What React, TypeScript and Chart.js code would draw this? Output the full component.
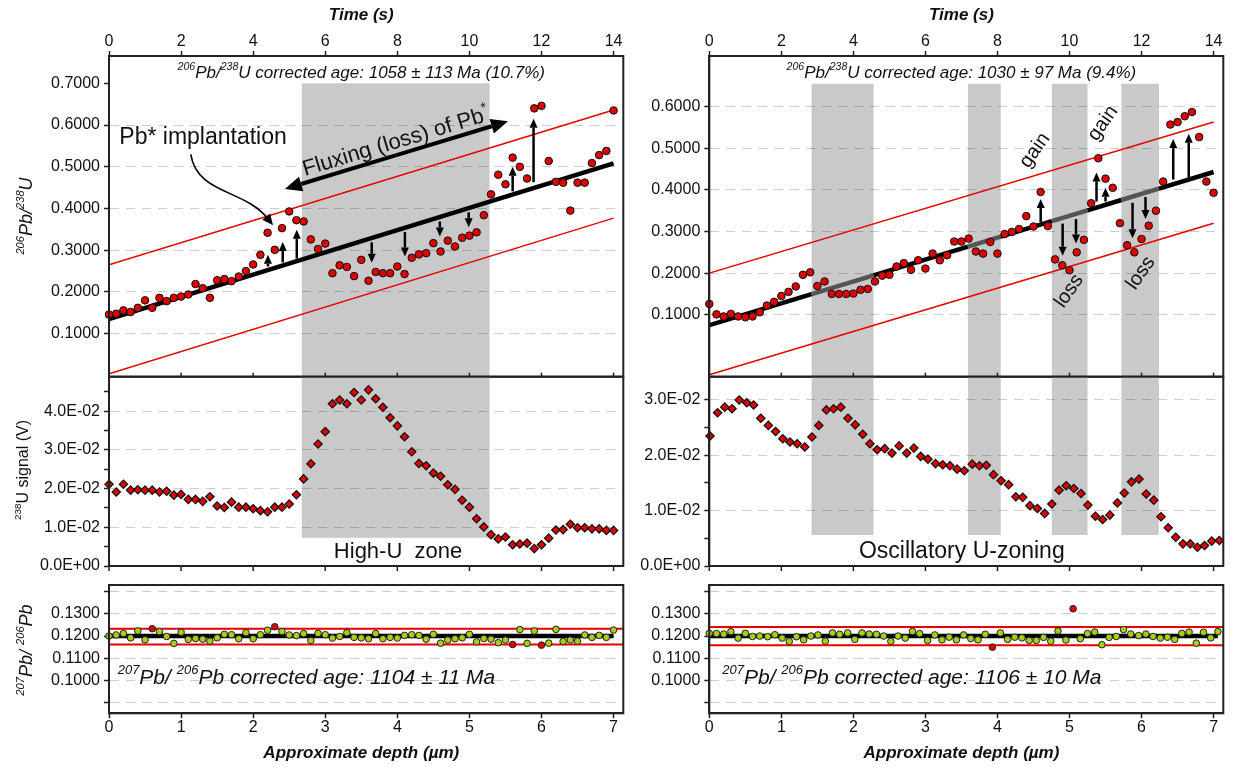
import React, { useEffect, useRef } from 'react';
import { Chart, registerables } from 'chart.js';

Chart.register(...registerables);

/* ============================ DATA ============================ */
// sampling times (s) of the ratio / U-signal cycles
const TIME_S = [0, 0.2, 0.4, 0.6, 0.8, 1, 1.2, 1.4, 1.6, 1.8, 2, 2.2, 2.4, 2.6, 2.8, 3, 3.2, 3.4, 3.6, 3.8, 4, 4.2, 4.4, 4.6, 4.8, 5, 5.2, 5.4, 5.6, 5.8, 6, 6.2, 6.4, 6.6, 6.8, 7, 7.2, 7.4, 7.6, 7.8, 8, 8.2, 8.4, 8.6, 8.8, 9, 9.2, 9.4, 9.6, 9.8, 10, 10.2, 10.4, 10.6, 10.8, 11, 11.2, 11.4, 11.6, 11.8, 12, 12.2, 12.4, 12.6, 12.8, 13, 13.2, 13.4, 13.6, 13.8, 14];

// left grain: 206Pb/238U
const RATIO_LEFT = [
  0.146, 0.148, 0.156, 0.152, 0.162, 0.180, 0.162, 0.186, 0.178, 0.186,
  0.189, 0.194, 0.219, 0.209, 0.186, 0.228, 0.231, 0.226, 0.237, 0.250,
  0.266, 0.289, 0.342, 0.301, 0.353, 0.393, 0.372, 0.369, 0.326, 0.303,
  0.316, 0.245, 0.264, 0.260, 0.238, 0.277, 0.227, 0.248, 0.245, 0.245,
  0.261, 0.243, 0.282, 0.290, 0.293, 0.317, 0.297, 0.323, 0.309, 0.330,
  0.335, 0.343, 0.384, 0.434, 0.481, 0.458, 0.522, 0.500, 0.472, 0.640,
  0.646, 0.514, 0.464, 0.462, 0.395, 0.462, 0.462, 0.509, 0.528, 0.538,
  0.635];

// left grain: 238U signal (V)
const U_LEFT = [
  0.0211, 0.0191, 0.0211, 0.0196, 0.0197, 0.0196, 0.0196, 0.0191, 0.0193, 0.0183,
  0.0185, 0.0172, 0.0172, 0.0167, 0.0179, 0.0155, 0.0151, 0.0165, 0.0152, 0.0152,
  0.0148, 0.0143, 0.0140, 0.0152, 0.0152, 0.0160, 0.0184, 0.0225, 0.0264, 0.0315,
  0.0347, 0.0419, 0.0429, 0.0419, 0.0448, 0.0429, 0.0455, 0.0432, 0.0410, 0.0383,
  0.0362, 0.0334, 0.0295, 0.0265, 0.0259, 0.0240, 0.0232, 0.0210, 0.0198, 0.0170,
  0.0152, 0.0122, 0.0101, 0.0081, 0.0070, 0.0075, 0.0055, 0.0057, 0.0059, 0.0045,
  0.0055, 0.0072, 0.0093, 0.0094, 0.0108, 0.0099, 0.0099, 0.0096, 0.0096, 0.0092,
  0.0092];

// right grain: 206Pb/238U
const RATIO_RIGHT = [
  0.126, 0.101, 0.096, 0.102, 0.096, 0.094, 0.096, 0.106, 0.122, 0.131,
  0.145, 0.155, 0.168, 0.196, 0.202, 0.169, 0.180, 0.150, 0.150, 0.150,
  0.151, 0.160, 0.162, 0.180, 0.194, 0.196, 0.216, 0.224, 0.208, 0.231,
  0.211, 0.247, 0.231, 0.243, 0.276, 0.276, 0.283, 0.252, 0.247, 0.275,
  0.247, 0.294, 0.299, 0.306, 0.337, 0.312, 0.395, 0.313, 0.233, 0.219,
  0.207, 0.250, 0.280, 0.368, 0.476, 0.427, 0.405, 0.320, 0.267, 0.250,
  0.282, 0.314, 0.350, 0.420, 0.557, 0.563, 0.577, 0.587, 0.527, 0.420,
  0.393];

// right grain: 238U signal times (s) and values (V)
const U_TIME_RIGHT = [
  0.02, 0.23, 0.43, 0.63, 0.83, 1.04, 1.23, 1.43, 1.64, 1.84,
  2.04, 2.24, 2.44, 2.65, 2.85, 3.04, 3.25, 3.45, 3.65, 3.85,
  4.05, 4.26, 4.46, 4.66, 4.87, 5.07, 5.27, 5.48, 5.68, 5.87,
  6.07, 6.28, 6.48, 6.68, 6.88, 7.08, 7.30, 7.50, 7.69, 7.89,
  8.10, 8.31, 8.51, 8.70, 8.90, 9.11, 9.31, 9.51, 9.71, 9.91,
  10.12, 10.32, 10.51, 10.72, 10.92, 11.12, 11.33, 11.52, 11.72, 11.93,
  12.13, 12.34, 12.54, 12.74, 12.95, 13.15, 13.35, 13.55, 13.75, 13.95,
  14.16];
const U_RIGHT = [
  0.0235, 0.0277, 0.0287, 0.0284, 0.0300, 0.0295, 0.0291, 0.0267, 0.0254, 0.0243,
  0.0230, 0.0224, 0.0221, 0.0215, 0.0233, 0.0254, 0.0282, 0.0284, 0.0287, 0.0267,
  0.0255, 0.0238, 0.0221, 0.0210, 0.0212, 0.0204, 0.0217, 0.0204, 0.0213, 0.0198,
  0.0193, 0.0185, 0.0183, 0.0181, 0.0175, 0.0172, 0.0184, 0.0181, 0.0182, 0.0165,
  0.0154, 0.0147, 0.0125, 0.0124, 0.0109, 0.0104, 0.0095, 0.0112, 0.0137, 0.0145,
  0.0140, 0.0131, 0.0110, 0.0090, 0.0084, 0.0092, 0.0114, 0.0132, 0.0152, 0.0157,
  0.0130, 0.0119, 0.0089, 0.0069, 0.0052, 0.0040, 0.0040, 0.0034, 0.0037, 0.0045,
  0.0046];

// bottom panels: 207Pb/206Pb vs approximate depth (um)
const DEPTH_LEFT = [0, 0.1, 0.2, 0.3, 0.4, 0.5, 0.6, 0.7, 0.8, 0.9, 1, 1.1, 1.2, 1.3, 1.4, 1.5, 1.6, 1.7, 1.8, 1.9, 2, 2.1, 2.2, 2.3, 2.4, 2.5, 2.6, 2.7, 2.8, 2.9, 3, 3.1, 3.2, 3.3, 3.4, 3.5, 3.6, 3.7, 3.8, 3.9, 4, 4.1, 4.2, 4.3, 4.4, 4.5, 4.6, 4.7, 4.8, 4.9, 5, 5.1, 5.2, 5.3, 5.4, 5.5, 5.6, 5.7, 5.8, 5.9, 6, 6.1, 6.2, 6.3, 6.4, 6.5, 6.6, 6.7, 6.8, 6.9, 7];
const PBPB_LEFT = [
  0.1200, 0.1205, 0.1212, 0.1192, 0.1223, 0.1183, 0.1233, 0.1220, 0.1198, 0.1167,
  0.1217, 0.1185, 0.1189, 0.1186, 0.1177, 0.1192, 0.1208, 0.1206, 0.1188, 0.1215,
  0.1188, 0.1206, 0.1226, 0.1242, 0.1220, 0.1205, 0.1202, 0.1211, 0.1180, 0.1212,
  0.1206, 0.1191, 0.1198, 0.1215, 0.1194, 0.1192, 0.1188, 0.1211, 0.1188, 0.1194,
  0.1191, 0.1203, 0.1206, 0.1203, 0.1186, 0.1208, 0.1168, 0.1182, 0.1188, 0.1192,
  0.1208, 0.1174, 0.1189, 0.1186, 0.1170, 0.1182, 0.1162, 0.1229, 0.1167, 0.1223,
  0.1159, 0.1168, 0.1230, 0.1176, 0.1182, 0.1177, 0.1205, 0.1194, 0.1203, 0.1194,
  0.1227];
const PBPB_LEFT_REJECTED = [6, 23, 56, 60];

const DEPTH_RIGHT = [
  0.00, 0.10, 0.20, 0.30, 0.40, 0.50, 0.60, 0.70, 0.81, 0.91,
  1.01, 1.11, 1.21, 1.31, 1.41, 1.51, 1.61, 1.71, 1.81, 1.92,
  2.02, 2.12, 2.22, 2.32, 2.42, 2.52, 2.62, 2.72, 2.82, 2.92,
  3.03, 3.13, 3.23, 3.33, 3.43, 3.53, 3.63, 3.73, 3.83, 3.93,
  4.04, 4.14, 4.24, 4.34, 4.44, 4.54, 4.64, 4.74, 4.84, 4.95,
  5.05, 5.15, 5.25, 5.35, 5.45, 5.55, 5.65, 5.75, 5.85, 5.96,
  6.06, 6.16, 6.26, 6.36, 6.46, 6.56, 6.66, 6.76, 6.86, 6.96,
  7.06];
const PBPB_RIGHT = [
  0.1212, 0.1211, 0.1209, 0.1220, 0.1191, 0.1212, 0.1198, 0.1200, 0.1197, 0.1206,
  0.1191, 0.1176, 0.1197, 0.1183, 0.1200, 0.1205, 0.1177, 0.1214, 0.1208, 0.1214,
  0.1185, 0.1214, 0.1209, 0.1208, 0.1200, 0.1176, 0.1200, 0.1191, 0.1221, 0.1211,
  0.1180, 0.1205, 0.1183, 0.1195, 0.1183, 0.1205, 0.1189, 0.1183, 0.1208, 0.1150,
  0.1214, 0.1185, 0.1195, 0.1192, 0.1180, 0.1180, 0.1194, 0.1177, 0.1223, 0.1182,
  0.1323, 0.1188, 0.1211, 0.1218, 0.1161, 0.1194, 0.1198, 0.1229, 0.1209, 0.1202,
  0.1209, 0.1198, 0.1191, 0.1195, 0.1185, 0.1212, 0.1218, 0.1168, 0.1217, 0.1192,
  0.1220];
const PBPB_RIGHT_REJECTED = [39, 50];

// trend line and envelope of 206Pb/238U: values at FIT_TIME
const FIT_TIME = [0, 14];
const FIT_LEFT = [0.135, 0.508];
const UPPER_LEFT = [0.265, 0.636];
const LOWER_LEFT = [0.004, 0.377];
const FIT_RIGHT = [0.075, 0.443];
const UPPER_RIGHT = [0.200, 0.563];
const LOWER_RIGHT = [-0.044, 0.320];

// 207Pb/206Pb mean, upper, lower
const PBPB_LEVELS_LEFT = [0.1200, 0.1233, 0.1162];
const PBPB_LEVELS_RIGHT = [0.1200, 0.1241, 0.1159];
const PBPB_FIT_DEPTH_LEFT = [0, 7.0];
const PBPB_FIT_DEPTH_RIGHT = [0, 7.06];
const PBPB_LIMIT_DEPTH = [0, 7.135];

// shaded zones (s)
const ZONES_LEFT = [[5.35, 10.56]];
const ZONES_RIGHT = [[2.84, 4.56], [7.18, 8.09], [9.51, 10.5], [11.44, 12.48]];

// gain / loss arrows: [time, from, to]
const ARROWS_LEFT = [
  [4.41, 0.261, 0.289], [4.82, 0.271, 0.320], [5.21, 0.280, 0.349],
  [11.20, 0.441, 0.500], [11.78, 0.463, 0.615],
  [7.29, 0.319, 0.270], [8.21, 0.344, 0.285], [9.18, 0.369, 0.333], [9.98, 0.391, 0.355]];
const ARROWS_RIGHT = [
  [9.20, 0.323, 0.378], [10.75, 0.372, 0.442], [11.00, 0.372, 0.405],
  [12.88, 0.425, 0.522], [13.31, 0.429, 0.535],
  [9.81, 0.319, 0.242], [10.18, 0.330, 0.271], [11.75, 0.369, 0.284], [12.11, 0.383, 0.330]];

// tick values
const TIME_TICKS = [0, 2, 4, 6, 8, 10, 12, 14];
const DEPTH_TICKS = [0, 1, 2, 3, 4, 5, 6, 7];
const RATIO_TICKS_LEFT = [0.1, 0.2, 0.3, 0.4, 0.5, 0.6, 0.7];
const RATIO_TICKS_RIGHT = [0.1, 0.2, 0.3, 0.4, 0.5, 0.6];
const RATIO_GRID = [0.1, 0.2, 0.3, 0.4, 0.5, 0.6];
const U_TICKS_LEFT = [0, 0.005, 0.01, 0.015, 0.02, 0.025, 0.03, 0.035, 0.04, 0.045];
const U_LABELS_LEFT = [0, 0.01, 0.02, 0.03, 0.04];
const U_GRID_LEFT = [0.01, 0.02, 0.03, 0.04];
const U_TICKS_RIGHT = [0, 0.005, 0.01, 0.015, 0.02, 0.025, 0.03];
const U_LABELS_RIGHT = [0, 0.01, 0.02, 0.03];
const U_GRID_RIGHT = [0.01, 0.02, 0.03];
const PBPB_TICKS = [0.09, 0.1, 0.11, 0.12, 0.13, 0.14];
const PBPB_LABELS = [0.1, 0.11, 0.12, 0.13];

/* ============================ STYLE / LAYOUT ============================ */
const PAGE_W = 1233;
const PAGE_H = 767;
const FONT = '"Liberation Sans", Arial, Helvetica, sans-serif';
const AXIS = '#222';
const TEXT = '#111';
const GRID = 'rgba(0,0,0,0.2)';
const BAND = '#c9c9c9';
const RED_PT = '#dc0000';
const RED_LINE = '#e60000';
const GREEN_PT = '#a9cc1a';

const COL_L = { l: 109, r: 623.3 };
const COL_R = { l: 709.3, r: 1223.3 };
const ROW_TOP = { t: 56, b: 376.7 };
const ROW_MID = { t: 376.7, b: 566 };
const ROW_BOT = { t: 585, b: 713.3 };
const TIME_MAX = 14.27;
const DEPTH_MAX = 7.135;
const YW = 100;
const XH = 24;

/* ============================ HELPERS ============================ */
const has = (arr: number[], v: number) => arr.some((a) => Math.abs(a - v) < 1e-9);
const pts = (xs: number[], ys: number[]) => xs.map((x, i) => ({ x, y: ys[i] }));

function fmtSci(v: number): string {
  if (Math.abs(v) < 1e-12) return '0.0E+00';
  const e = Math.floor(Math.log10(Math.abs(v)) + 1e-9);
  const m = v / Math.pow(10, e);
  const ae = Math.abs(e);
  return m.toFixed(1) + 'E' + (e < 0 ? '-' : '+') + (ae < 10 ? '0' : '') + ae;
}

function fontStr(style: string, weight: string, size: number) {
  return `${style} ${weight} ${size}px ${FONT}`;
}

type Part = { t: string; sup?: boolean };
type TextItem = {
  parts: Part[]; x: number; y: number; xData?: boolean; yData?: boolean;
  size: number; style?: string; weight?: string; align?: string; rot?: number;
};

function drawRich(ctx: CanvasRenderingContext2D, it: TextItem, x: number, y: number) {
  const style = it.style || 'normal';
  const weight = it.weight || 'normal';
  const supSize = it.size * 0.62;
  ctx.save();
  ctx.translate(x, y);
  ctx.rotate(((it.rot || 0) * Math.PI) / 180);
  ctx.fillStyle = TEXT;
  ctx.textBaseline = 'middle';
  ctx.textAlign = 'left';
  let w = 0;
  for (const p of it.parts) {
    ctx.font = fontStr(style, weight, p.sup ? supSize : it.size);
    w += ctx.measureText(p.t).width;
  }
  let cx = it.align === 'left' ? 0 : it.align === 'right' ? -w : -w / 2;
  for (const p of it.parts) {
    ctx.font = fontStr(style, weight, p.sup ? supSize : it.size);
    ctx.fillText(p.t, cx, p.sup ? -it.size * 0.34 : 0);
    cx += ctx.measureText(p.t).width;
  }
  ctx.restore();
}

function arrowTo(ctx: CanvasRenderingContext2D, x1: number, y1: number, x2: number, y2: number, hl: number, hw: number) {
  const ang = Math.atan2(y2 - y1, x2 - x1);
  const bx = x2 - Math.cos(ang) * hl;
  const by = y2 - Math.sin(ang) * hl;
  ctx.beginPath();
  ctx.moveTo(x1, y1);
  ctx.lineTo(bx, by);
  ctx.stroke();
  ctx.beginPath();
  ctx.moveTo(x2, y2);
  ctx.lineTo(bx + (Math.sin(ang) * hw) / 2, by - (Math.cos(ang) * hw) / 2);
  ctx.lineTo(bx - (Math.sin(ang) * hw) / 2, by + (Math.cos(ang) * hw) / 2);
  ctx.closePath();
  ctx.fill();
}

function decorPlugin(d: any) {
  return {
    id: 'decor',
    beforeDraw(chart: any) {
      const { ctx, chartArea: a } = chart;
      const x = chart.scales.x;
      const y = chart.scales.y;
      if (d.bands) {
        ctx.save();
        ctx.beginPath();
        ctx.rect(a.left, a.top, a.right - a.left, a.bottom - a.top);
        ctx.clip();
        ctx.fillStyle = BAND;
        for (const [t0, t1] of d.bands.ranges) {
          const px0 = x.getPixelForValue(t0);
          const px1 = x.getPixelForValue(t1);
          const pyTop = y.getPixelForValue(d.bands.hi);
          const pyBot = y.getPixelForValue(d.bands.lo);
          ctx.fillRect(px0, pyTop, px1 - px0, pyBot - pyTop);
        }
        ctx.restore();
      }
    },
    afterDatasetsDraw(chart: any) {
      const { ctx } = chart;
      const x = chart.scales.x;
      const y = chart.scales.y;
      ctx.save();
      ctx.strokeStyle = '#000';
      ctx.fillStyle = '#000';
      if (d.arrows) {
        ctx.lineWidth = 2.5;
        for (const [t, v0, v1] of d.arrows) {
          const px = x.getPixelForValue(t);
          arrowTo(ctx, px, y.getPixelForValue(v0), px, y.getPixelForValue(v1), 9, 8);
        }
      }
      if (d.bigArrow) {
        const [t0, v0, t1, v1] = d.bigArrow;
        const x0 = x.getPixelForValue(t0), y0 = y.getPixelForValue(v0);
        const x1 = x.getPixelForValue(t1), y1 = y.getPixelForValue(v1);
        const mx = (x0 + x1) / 2, my = (y0 + y1) / 2;
        ctx.lineWidth = 4;
        arrowTo(ctx, mx, my, x0, y0, 17, 15);
        arrowTo(ctx, mx, my, x1, y1, 17, 15);
      }
      if (d.curve) {
        const c = d.curve.map((p: number[]) => [x.getPixelForValue(p[0]), y.getPixelForValue(p[1])]);
        ctx.lineWidth = 1.6;
        const ang = Math.atan2(c[3][1] - c[2][1], c[3][0] - c[2][0]);
        const hl = 11;
        const ex = c[3][0] - Math.cos(ang) * hl * 0.8;
        const ey = c[3][1] - Math.sin(ang) * hl * 0.8;
        ctx.beginPath();
        ctx.moveTo(c[0][0], c[0][1]);
        ctx.bezierCurveTo(c[1][0], c[1][1], c[2][0], c[2][1], ex, ey);
        ctx.stroke();
        const bx = c[3][0] - Math.cos(ang) * hl;
        const by = c[3][1] - Math.sin(ang) * hl;
        ctx.beginPath();
        ctx.moveTo(c[3][0], c[3][1]);
        ctx.lineTo(bx + Math.sin(ang) * 5, by - Math.cos(ang) * 5);
        ctx.lineTo(bx - Math.sin(ang) * 5, by + Math.cos(ang) * 5);
        ctx.closePath();
        ctx.fill();
      }
      ctx.restore();
    },
    afterDraw(chart: any) {
      const { ctx, chartArea: a } = chart;
      const x = chart.scales.x;
      const y = chart.scales.y;
      ctx.save();
      ctx.strokeStyle = AXIS;
      ctx.lineWidth = 2;
      ctx.strokeRect(a.left, a.top, a.right - a.left, a.bottom - a.top);
      if (d.edgeTicks) {
        ctx.lineWidth = 1.5;
        for (const v of d.edgeTicks.values) {
          const px = x.getPixelForValue(v);
          ctx.beginPath();
          ctx.moveTo(px, a.bottom - d.edgeTicks.up);
          ctx.lineTo(px, a.bottom + d.edgeTicks.down);
          ctx.stroke();
        }
      }
      ctx.restore();
      for (const it of d.texts || []) {
        const px = it.xData ? x.getPixelForValue(it.x) : it.x;
        const py = it.yData ? y.getPixelForValue(it.y) : it.y;
        drawRich(ctx, it, px, py);
      }
    },
  };
}

function lineDs(xs: number[], ys: number[], color: string, width: number, extra: any = {}) {
  return {
    type: 'line', data: pts(xs, ys), borderColor: color, borderWidth: width,
    pointRadius: 0, fill: false, tension: 0, ...extra,
  };
}

function trendWithZones(ends: number[], zones: number[][]) {
  const cuts: number[] = [];
  zones.forEach((z) => { cuts.push(z[0], z[1]); });
  const xs = [FIT_TIME[0], ...cuts, FIT_TIME[1]];
  const ys = xs.map((t) => ends[0] + ((ends[1] - ends[0]) * (t - FIT_TIME[0])) / (FIT_TIME[1] - FIT_TIME[0]));
  return pts(xs, ys);
}

function makeConfig(p: any) {
  const xPos = p.xAxis ? p.xAxis.position : null;
  const padding = {
    left: p.col.l - YW,
    right: PAGE_W - p.col.r,
    top: p.row.t - (xPos === 'top' ? XH : 0),
    bottom: PAGE_H - p.row.b - (xPos === 'bottom' ? XH : 0),
  };
  return {
    type: 'scatter',
    data: { datasets: p.datasets },
    options: {
      responsive: false,
      maintainAspectRatio: false,
      animation: false,
      events: [],
      layout: { padding, autoPadding: false },
      plugins: { legend: { display: false }, tooltip: { enabled: false }, title: { display: false } },
      scales: {
        x: {
          type: 'linear',
          min: 0,
          max: p.xMax,
          position: xPos || 'bottom',
          display: !!p.xAxis,
          afterBuildTicks: (s: any) => { s.ticks = (p.xAxis ? p.xAxis.ticks : []).map((v: number) => ({ value: v })); },
          afterFit: (s: any) => { s.height = p.xAxis ? XH : 0; },
          grid: { display: true, drawOnChartArea: false, drawTicks: true, tickLength: 5, tickColor: AXIS, tickWidth: 1.5 },
          border: { display: true, color: AXIS, width: 2 },
          ticks: {
            autoSkip: false, maxRotation: 0, minRotation: 0, padding: 0, color: TEXT,
            font: { family: FONT, size: 16 }, callback: (v: number) => String(v),
          },
        },
        y: {
          type: 'linear',
          min: p.yMin,
          max: p.yMax,
          position: 'left',
          afterBuildTicks: (s: any) => { s.ticks = p.yTicks.map((v: number) => ({ value: v })); },
          afterFit: (s: any) => { s.width = YW; },
          grid: {
            display: true, drawOnChartArea: true, drawTicks: true, tickLength: 5,
            color: (c: any) => (c.tick && has(p.yGrid, c.tick.value) ? GRID : 'rgba(0,0,0,0)'),
            lineWidth: 1, tickColor: AXIS, tickWidth: 1.5, tickBorderDash: [],
          },
          border: { display: true, color: AXIS, width: 2, dash: [9, 7] },
          ticks: {
            autoSkip: false, padding: 4, color: TEXT, font: { family: FONT, size: 16 },
            callback: (v: number) => (has(p.yLabels, v) ? p.yFmt(v) : ''),
          },
        },
      },
    },
    plugins: [decorPlugin(p.decor)],
  };
}

const redPoints = (xs: number[], ys: number[]) => ({
  type: 'scatter', data: pts(xs, ys), pointStyle: 'circle', pointRadius: 3.8,
  pointBackgroundColor: RED_PT, pointBorderColor: '#111', pointBorderWidth: 1, clip: false,
});
const diamonds = (xs: number[], ys: number[]) => ({
  type: 'scatter', data: pts(xs, ys), pointStyle: 'rectRot', pointRadius: 4.2,
  pointBackgroundColor: RED_PT, pointBorderColor: '#111', pointBorderWidth: 1.2, clip: false,
});
const pbpbPoints = (xs: number[], ys: number[], rejected: number[]) => ({
  type: 'scatter', data: pts(xs, ys), pointStyle: 'circle', pointRadius: 3.3,
  pointBackgroundColor: ys.map((_, i) => (rejected.includes(i) ? RED_PT : GREEN_PT)),
  pointBorderColor: '#222', pointBorderWidth: 1, clip: false,
});

const SUPER_RATIO: Part[] = [{ t: '206', sup: true }, { t: 'Pb/' }, { t: '238', sup: true }, { t: 'U' }];
const SUPER_PBPB: Part[] = [{ t: '207', sup: true }, { t: 'Pb/ ' }, { t: '206', sup: true }, { t: 'Pb' }];

function buildConfigs() {
  const ratioFmt = (v: number) => v.toFixed(4);
  const timeTitle = (): TextItem => ({ parts: [{ t: 'Time (s)' }], x: 7, xData: true, y: 15, size: 17, style: 'italic', weight: 'bold' });
  const depthTitle = (): TextItem => ({ parts: [{ t: 'Approximate depth (µm)' }], x: 3.5, xData: true, y: 753, size: 17, style: 'italic', weight: 'bold' });

  const topLeft = makeConfig({
    col: COL_L, row: ROW_TOP, xMax: TIME_MAX, yMin: -0.003, yMax: 0.7655,
    yTicks: RATIO_TICKS_LEFT, yLabels: RATIO_TICKS_LEFT, yGrid: RATIO_GRID, yFmt: ratioFmt,
    xAxis: { position: 'top', ticks: TIME_TICKS },
    datasets: [
      redPoints(TIME_S, RATIO_LEFT),
      lineDs(FIT_TIME, FIT_LEFT, '#000', 4.5),
      lineDs(FIT_TIME, UPPER_LEFT, RED_LINE, 1.5),
      lineDs(FIT_TIME, LOWER_LEFT, RED_LINE, 1.5),
    ],
    decor: {
      bands: { ranges: ZONES_LEFT, lo: -0.003, hi: 0.7 },
      arrows: ARROWS_LEFT,
      bigArrow: [4.88, 0.447, 11.07, 0.609],
      curve: [[2.27, 0.530], [2.44, 0.434], [3.77, 0.446], [4.55, 0.360]],
      edgeTicks: { values: TIME_TICKS, up: 4, down: 0 },
      texts: [
        timeTitle(),
        { parts: [...SUPER_RATIO.slice(0, 3), { t: 'U corrected age: 1058 ± 113 Ma (10.7%)' }], x: 7, xData: true, y: 73, size: 17, style: 'italic' },
        { parts: SUPER_RATIO, x: 27, y: 216, size: 18, style: 'italic', rot: -90 },
        { parts: [{ t: 'Pb* implantation' }], x: 2.61, y: 0.571, xData: true, yData: true, size: 23 },
        { parts: [{ t: 'Fluxing (loss) of Pb' }, { t: '*', sup: true }], x: 7.96, y: 0.5586, xData: true, yData: true, size: 22, rot: -16.7 },
      ],
    },
  });

  const midLeft = makeConfig({
    col: COL_L, row: ROW_MID, xMax: TIME_MAX, yMin: 0, yMax: 0.0489,
    yTicks: U_TICKS_LEFT, yLabels: U_LABELS_LEFT, yGrid: U_GRID_LEFT, yFmt: fmtSci,
    xAxis: null,
    datasets: [diamonds(TIME_S, U_LEFT)],
    decor: {
      bands: { ranges: ZONES_LEFT, lo: 0.0073, hi: 0.0489 },
      edgeTicks: { values: TIME_TICKS, up: 0, down: 5 },
      texts: [
        { parts: [{ t: '238', sup: true }, { t: 'U signal (V)' }], x: 24, y: 470, size: 16, rot: -90 },
        { parts: [{ t: 'High-U  zone' }], x: 8.02, xData: true, y: 552, size: 22 },
      ],
    },
  });

  const botLeft = makeConfig({
    col: COL_L, row: ROW_BOT, xMax: DEPTH_MAX, yMin: 0.0852, yMax: 0.143,
    yTicks: PBPB_TICKS, yLabels: PBPB_LABELS, yGrid: PBPB_TICKS, yFmt: ratioFmt,
    xAxis: { position: 'bottom', ticks: DEPTH_TICKS },
    datasets: [
      pbpbPoints(DEPTH_LEFT, PBPB_LEFT, PBPB_LEFT_REJECTED),
      lineDs(PBPB_FIT_DEPTH_LEFT, [PBPB_LEVELS_LEFT[0], PBPB_LEVELS_LEFT[0]], '#000', 4.5),
      lineDs(PBPB_LIMIT_DEPTH, [PBPB_LEVELS_LEFT[1], PBPB_LEVELS_LEFT[1]], RED_LINE, 2),
      lineDs(PBPB_LIMIT_DEPTH, [PBPB_LEVELS_LEFT[2], PBPB_LEVELS_LEFT[2]], RED_LINE, 2),
    ],
    decor: {
      texts: [
        { parts: SUPER_PBPB, x: 27, y: 650, size: 18, style: 'italic', rot: -90 },
        { parts: [...SUPER_PBPB.slice(0, 3), { t: 'Pb corrected age: 1104 ± 11 Ma' }], x: 0.12, xData: true, y: 678, size: 21, style: 'italic', align: 'left' },
        depthTitle(),
      ],
    },
  });

  const topRight = makeConfig({
    col: COL_R, row: ROW_TOP, xMax: TIME_MAX, yMin: -0.0488, yMax: 0.7217,
    yTicks: RATIO_TICKS_RIGHT, yLabels: RATIO_TICKS_RIGHT, yGrid: RATIO_GRID, yFmt: ratioFmt,
    xAxis: { position: 'top', ticks: TIME_TICKS },
    datasets: [
      redPoints(TIME_S, RATIO_RIGHT),
      {
        type: 'line', data: trendWithZones(FIT_RIGHT, ZONES_RIGHT), borderColor: '#000', borderWidth: 4.5,
        pointRadius: 0, fill: false, tension: 0,
        segment: {
          borderColor: (c: any) => {
            const m = (c.p0.parsed.x + c.p1.parsed.x) / 2;
            return ZONES_RIGHT.some((z) => m > z[0] && m < z[1]) ? '#555' : '#000';
          },
        },
      },
      lineDs(FIT_TIME, UPPER_RIGHT, RED_LINE, 1.5),
      lineDs(FIT_TIME, LOWER_RIGHT, RED_LINE, 1.5),
    ],
    decor: {
      bands: { ranges: ZONES_RIGHT, lo: -0.0488, hi: 0.655 },
      arrows: ARROWS_RIGHT,
      edgeTicks: { values: TIME_TICKS, up: 4, down: 0 },
      texts: [
        timeTitle(),
        { parts: [...SUPER_RATIO.slice(0, 3), { t: 'U corrected age: 1030 ± 97 Ma (9.4%)' }], x: 7, xData: true, y: 73, size: 17, style: 'italic' },
        { parts: [{ t: 'gain' }], x: 9.04, y: 0.495, xData: true, yData: true, size: 20, rot: -55 },
        { parts: [{ t: 'gain' }], x: 10.93, y: 0.560, xData: true, yData: true, size: 20, rot: -55 },
        { parts: [{ t: 'loss' }], x: 9.99, y: 0.157, xData: true, yData: true, size: 20, rot: -55 },
        { parts: [{ t: 'loss' }], x: 11.98, y: 0.200, xData: true, yData: true, size: 20, rot: -55 },
      ],
    },
  });

  const midRight = makeConfig({
    col: COL_R, row: ROW_MID, xMax: TIME_MAX, yMin: 0, yMax: 0.0342,
    yTicks: U_TICKS_RIGHT, yLabels: U_LABELS_RIGHT, yGrid: U_GRID_RIGHT, yFmt: fmtSci,
    xAxis: null,
    datasets: [diamonds(U_TIME_RIGHT, U_RIGHT)],
    decor: {
      bands: { ranges: ZONES_RIGHT, lo: 0.0056, hi: 0.0342 },
      edgeTicks: { values: TIME_TICKS, up: 0, down: 5 },
      texts: [
        { parts: [{ t: 'Oscillatory U-zoning' }], x: 7.01, xData: true, y: 552, size: 23 },
      ],
    },
  });

  const botRight = makeConfig({
    col: COL_R, row: ROW_BOT, xMax: DEPTH_MAX, yMin: 0.0852, yMax: 0.143,
    yTicks: PBPB_TICKS, yLabels: PBPB_LABELS, yGrid: PBPB_TICKS, yFmt: ratioFmt,
    xAxis: { position: 'bottom', ticks: DEPTH_TICKS },
    datasets: [
      pbpbPoints(DEPTH_RIGHT, PBPB_RIGHT, PBPB_RIGHT_REJECTED),
      lineDs(PBPB_FIT_DEPTH_RIGHT, [PBPB_LEVELS_RIGHT[0], PBPB_LEVELS_RIGHT[0]], '#000', 4.5),
      lineDs(PBPB_LIMIT_DEPTH, [PBPB_LEVELS_RIGHT[1], PBPB_LEVELS_RIGHT[1]], RED_LINE, 2),
      lineDs(PBPB_LIMIT_DEPTH, [PBPB_LEVELS_RIGHT[2], PBPB_LEVELS_RIGHT[2]], RED_LINE, 2),
    ],
    decor: {
      texts: [
        { parts: [...SUPER_PBPB.slice(0, 3), { t: 'Pb corrected age: 1106 ± 10 Ma' }], x: 0.18, xData: true, y: 678, size: 21, style: 'italic', align: 'left' },
        depthTitle(),
      ],
    },
  });

  return [topLeft, midLeft, botLeft, topRight, midRight, botRight];
}

export default function App() {
  const canvases = useRef<(HTMLCanvasElement | null)[]>([]);
  useEffect(() => {
    const cfgs = buildConfigs();
    const charts = cfgs.map((cfg, i) => new Chart(canvases.current[i] as HTMLCanvasElement, cfg as any));
    return () => { charts.forEach((c) => c.destroy()); };
  }, []);
  return (
    <div style={{ position: 'absolute', left: 0, top: 0, width: PAGE_W, height: PAGE_H, background: '#fff' }}>
      {[0, 1, 2, 3, 4, 5].map((i) => (
        <canvas
          key={i}
          ref={(el) => { canvases.current[i] = el; }}
          width={PAGE_W}
          height={PAGE_H}
          style={{ position: 'absolute', left: 0, top: 0, width: PAGE_W, height: PAGE_H }}
        />
      ))}
    </div>
  );
}
